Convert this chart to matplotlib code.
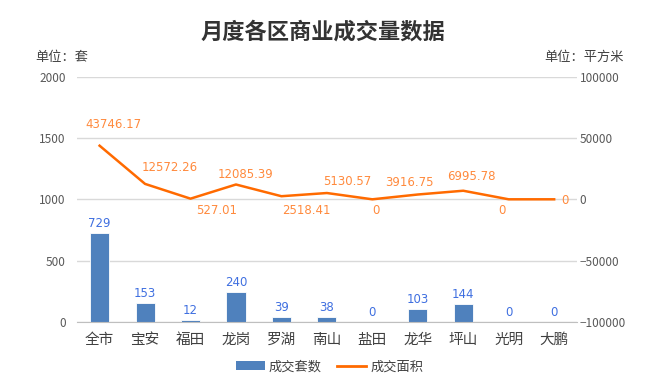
"""
月度各区商业成交量数据 - bars (套数) + line (面积) on twin axes
"""

import matplotlib.pyplot as plt
from matplotlib.lines import Line2D
from matplotlib.patches import Patch

plt.rcParams["font.family"] = ["Noto Sans CJK SC", "DejaVu Sans"]

districts = ["全市", "宝安", "福田", "龙岗", "罗湖", "南山", "盐田", "龙华", "坪山", "光明", "大鹏"]
units = [729, 153, 12, 240, 39, 38, 0, 103, 144, 0, 0]
area = [43746.17, 12572.26, 527.01, 12085.39, 2518.41, 5130.57, 0, 3916.75, 6995.78, 0, 0]
area_labels = ["43746.17", "12572.26", "527.01", "12085.39", "2518.41", "5130.57",
               "0", "3916.75", "6995.78", "0", "0"]

# label offsets for the line values (pixels)
area_offsets = [(14, 21), (25, 16), (26, -12), (10, 10), (25, -14), (20, 12),
                (4, -11), (-8, 12), (8, 14), (-7, -11), (11, -1)]

bar_color = "#4F81BD"
line_color = "#FF6A00"
label_orange = "#FF8A3D"
label_blue = "#3F6FE0"
grey_text = "#595959"

fig = plt.figure(figsize=(6.46, 3.8), dpi=100)
ax = fig.add_axes([0.119, 0.153, 0.774, 0.645])
ax2 = ax.twinx()

x = list(range(len(districts)))
bars = ax.bar(x, units, width=0.42, color=bar_color, edgecolor="white", linewidth=0.6, zorder=2)
for xi, v in zip(x, units):
    ax.annotate(str(v), (xi, v), xytext=(0, 3), textcoords="offset pixels",
                ha="center", va="bottom", color=label_blue, fontsize=8.5,
                family="DejaVu Sans")

ax.set_xlim(-0.5, len(districts) - 0.5)
ax.set_ylim(0, 2000)
ax.set_yticks([0, 500, 1000, 1500, 2000])
ax.grid(axis="y", color="#D9D9D9", linewidth=1, zorder=0)
ax.set_axisbelow(True)
ax.set_xticks(x)
ax.set_xticklabels(districts, fontsize=10.5, color="#404040")
ax.tick_params(axis="y", length=0, labelsize=8.5, labelcolor=grey_text, pad=8)
ax.tick_params(axis="x", length=0, pad=8)
for s in ["top", "left", "right"]:
    ax.spines[s].set_visible(False)
ax.spines["bottom"].set_color("#BFBFBF")

ax2.plot(x, area, color=line_color, linewidth=1.8, zorder=3)
for xi, v, lab, (dx, dy) in zip(x, area, area_labels, area_offsets):
    ax2.annotate(lab, (xi, v), xytext=(dx, dy), textcoords="offset pixels",
                 ha="center", va="center", color=label_orange, fontsize=8.5,
                 family="DejaVu Sans")
ax2.set_ylim(-100000, 100000)
ax2.set_yticks([-100000, -50000, 0, 50000, 100000])
ax2.tick_params(axis="y", length=0, labelsize=8.5, labelcolor=grey_text, pad=2)
for s in ax2.spines.values():
    s.set_visible(False)

fig.text(0.5, 0.915, "月度各区商业成交量数据", ha="center", va="center",
         fontsize=16, fontweight="bold", color="#333333")
fig.text(0.055, 0.848, "单位：套", ha="left", va="center", fontsize=9.5, color="#404040")
fig.text(0.965, 0.848, "单位：平方米", ha="right", va="center", fontsize=9.5, color="#404040")

handles = [Patch(facecolor=bar_color, edgecolor="none"),
           Line2D([0], [0], color=line_color, linewidth=2)]
fig.legend(handles, ["成交套数", "成交面积"], loc="center", bbox_to_anchor=(0.51, 0.035),
           ncol=2, frameon=False, fontsize=9.5, handlelength=2.2, columnspacing=1.2,
           handletextpad=0.3, labelcolor="#404040")

fig.savefig("out.png", dpi=100)
